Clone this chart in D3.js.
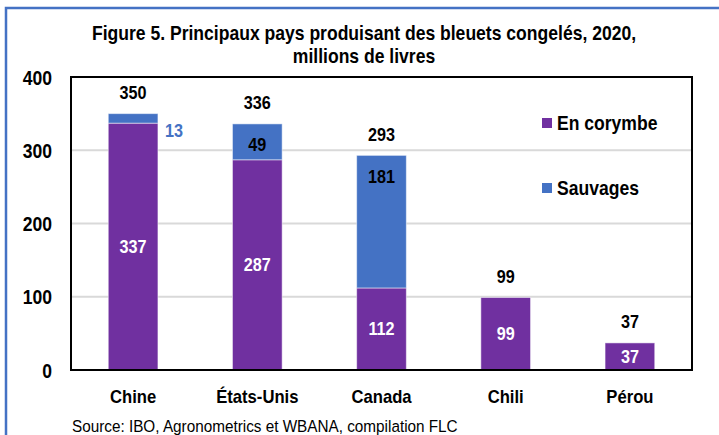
<!DOCTYPE html>
<html>
<head>
<meta charset="utf-8">
<script src="https://cdn.jsdelivr.net/npm/d3@7"></script>
<style>
  body { margin: 0; background: #fff; }
  svg text { font-family: "Liberation Sans Narrow", "Arial Narrow", "Liberation Sans", Arial, sans-serif; }
</style>
</head>
<body>
<div id="chart"></div>
<script>
// data
var countries = ['Chine', 'États-Unis', 'Canada', 'Chili', 'Pérou'];
var corymbe = [337, 287, 112, 99, 37];
var sauvages = [13, 49, 181, 0, 0];
var totals = [350, 336, 293, 99, 37];
var yTicks = [0, 100, 200, 300, 400];
var seriesNames = ['En corymbe', 'Sauvages'];
var colors = ['#7030A0', '#4472C4'];

var width = 719, height = 435;
var plot = {left: 71, right: 692, top: 77, bottom: 370};
var squeeze = 0.9; // the original uses a narrow typeface

var svg = d3.select('#chart').append('svg')
  .attr('width', width)
  .attr('height', height);

// squeeze text horizontally around its anchor point
function condense(sel) {
  sel.each(function () {
    var t = d3.select(this);
    var x0 = +t.attr('x') || 0, y0 = +t.attr('y') || 0;
    t.attr('transform', 'translate(' + x0 + ',' + y0 + ') scale(' + squeeze + ',1)')
      .attr('x', 0).attr('y', 0);
  });
}

// outer frame (continues beyond the crop)
svg.append('rect')
  .attr('x', 6).attr('y', 8)
  .attr('width', 900).attr('height', 900)
  .attr('fill', 'none')
  .attr('stroke', '#4472C4')
  .attr('stroke-width', 2.5);

// title
svg.append('g').selectAll('text')
  .data(['Figure 5. Principaux pays produisant des bleuets congelés, 2020,', 'millions de livres'])
  .enter().append('text')
  .attr('x', 364)
  .attr('y', function (d, i) { return 40 + i * 23; })
  .attr('text-anchor', 'middle')
  .attr('font-weight', 'bold')
  .attr('font-size', 19.5)
  .text(function (d) { return d; })
  .call(condense);

var x = d3.scaleBand()
  .domain(countries)
  .range([plot.left, plot.right])
  .paddingInner(0.6)
  .paddingOuter(0.3);

var y = d3.scaleLinear()
  .domain([0, 400])
  .range([plot.bottom, plot.top]);

// gridlines
svg.append('g').selectAll('line')
  .data(yTicks.filter(function (d) { return d > 0 && d < 400; }))
  .enter().append('line')
  .attr('x1', plot.left).attr('x2', plot.right)
  .attr('y1', function (d) { return y(d); })
  .attr('y2', function (d) { return y(d); })
  .attr('stroke', '#d9d9d9')
  .attr('stroke-width', 2);

// y axis labels
var yAxis = svg.append('g')
  .attr('transform', 'translate(' + (plot.left - 19) + ',0)')
  .call(d3.axisLeft(y).tickValues(yTicks).tickSize(0).tickPadding(0));
yAxis.select('.domain').remove();
yAxis.selectAll('text')
  .attr('font-size', 19.5)
  .attr('font-weight', 'bold')
  .attr('fill', '#000')
  .attr('dy', '0.36em')
  .call(condense);

// x axis labels
var xAxis = svg.append('g')
  .attr('transform', 'translate(0,' + plot.bottom + ')')
  .call(d3.axisBottom(x).tickSize(0).tickPadding(20));
xAxis.select('.domain').remove();
xAxis.selectAll('text')
  .attr('font-size', 18.5)
  .attr('font-weight', 'bold')
  .attr('fill', '#000')
  .call(condense);

// stacked bars
var rows = countries.map(function (c, i) {
  return {country: c, corymbe: corymbe[i], sauvages: sauvages[i], total: totals[i]};
});
var stack = d3.stack().keys(['corymbe', 'sauvages'])(rows);

var layers = svg.append('g').selectAll('g')
  .data(stack)
  .enter().append('g')
  .attr('fill', function (d, i) { return colors[i]; });

layers.selectAll('rect')
  .data(function (d) { return d.filter(function (s) { return s[1] > s[0]; }); })
  .enter().append('rect')
  .attr('x', function (d) { return x(d.data.country); })
  .attr('width', x.bandwidth())
  .attr('y', function (d) { return y(d[1]); })
  .attr('height', function (d) { return y(d[0]) - y(d[1]); })
  .attr('stroke', 'rgba(255,255,255,0.5)')
  .attr('stroke-width', 1);

// labels: corymbe centred, white
svg.append('g').selectAll('text')
  .data(stack[0])
  .enter().append('text')
  .attr('x', function (d) { return x(d.data.country) + x.bandwidth() / 2; })
  .attr('y', function (d) { return (y(d[0]) + y(d[1])) / 2; })
  .attr('dy', '0.36em')
  .attr('text-anchor', 'middle')
  .attr('font-size', 18)
  .attr('font-weight', 'bold')
  .attr('fill', '#fff')
  .text(function (d) { return d.data.corymbe; })
  .call(condense);

// labels: sauvages near top inside, or outside right when too small
svg.append('g').selectAll('text')
  .data(stack[1].filter(function (d) { return d.data.sauvages > 0; }))
  .enter().append('text')
  .each(function (d) {
    var small = d.data.sauvages < 20;
    d3.select(this)
      .attr('x', small ? x(d.data.country) + x.bandwidth() + 16 : x(d.data.country) + x.bandwidth() / 2)
      .attr('y', small ? y(d[1]) + 17 : y(d[1]) + 21)
      .attr('fill', small ? '#4472C4' : '#000');
  })
  .attr('dy', '0.36em')
  .attr('text-anchor', 'middle')
  .attr('font-size', 18)
  .attr('font-weight', 'bold')
  .text(function (d) { return d.data.sauvages; })
  .call(condense);

// totals
svg.append('g').selectAll('text')
  .data(rows)
  .enter().append('text')
  .attr('x', function (d) { return x(d.country) + x.bandwidth() / 2; })
  .attr('y', function (d) { return y(d.total) - 21; })
  .attr('dy', '0.36em')
  .attr('text-anchor', 'middle')
  .attr('font-size', 18)
  .attr('font-weight', 'bold')
  .attr('fill', '#000')
  .text(function (d) { return d.total; })
  .call(condense);

// plot border
svg.append('rect')
  .attr('x', plot.left).attr('y', plot.top)
  .attr('width', plot.right - plot.left)
  .attr('height', plot.bottom - plot.top)
  .attr('fill', 'none')
  .attr('stroke', '#000')
  .attr('stroke-width', 2);

// legend
var legend = svg.append('g').selectAll('g')
  .data(seriesNames)
  .enter().append('g')
  .attr('transform', function (d, i) { return 'translate(542,' + (118 + i * 65) + ')'; });
legend.append('rect')
  .attr('width', 10).attr('height', 10)
  .attr('fill', function (d, i) { return colors[i]; });
legend.append('text')
  .attr('x', 15).attr('y', 5)
  .attr('dy', '0.36em')
  .attr('font-size', 19.5)
  .attr('font-weight', 'bold')
  .text(function (d) { return d; })
  .call(condense);

// source
svg.append('text')
  .attr('x', 72).attr('y', 432)
  .attr('font-size', 17)
  .attr('fill', '#000')
  .text('Source: IBO, Agronometrics et WBANA, compilation FLC')
  .call(condense);
</script>
</body>
</html>
